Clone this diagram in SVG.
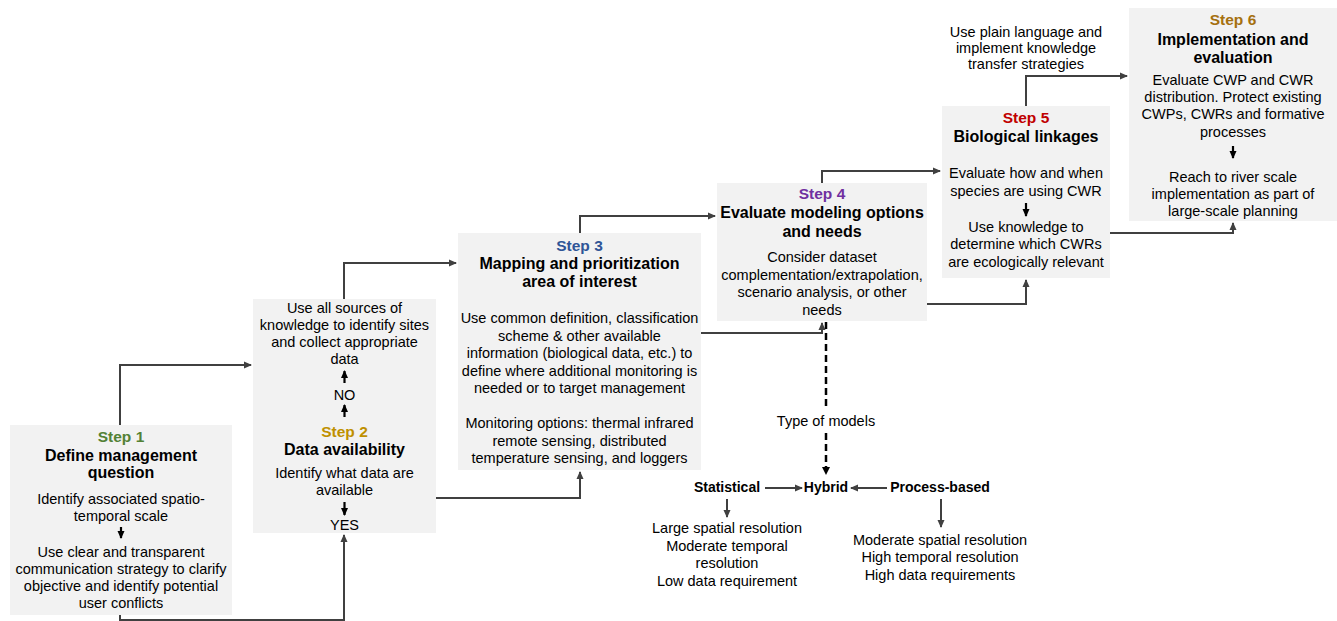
<svg xmlns="http://www.w3.org/2000/svg" width="1337" height="621" viewBox="0 0 1337 621">
<style>
.box{fill:#f2f2f2}
text{font-family:"Liberation Sans",Arial,sans-serif;text-anchor:middle;fill:#000}
.b{font-size:14.5px}
.t{font-size:16px;font-weight:bold}
.s{font-size:15.5px;font-weight:bold}
.m{font-size:14px;font-weight:bold}
.c{fill:none;stroke:#404040;stroke-width:2;marker-end:url(#ah)}
.k{fill:none;stroke:#000;stroke-width:2.2;marker-end:url(#ak)}
.d{fill:none;stroke:#000;stroke-width:2.5;stroke-dasharray:7 4}
</style>
<defs>
<marker id="ah" markerUnits="userSpaceOnUse" markerWidth="8" markerHeight="8" refX="7" refY="4" orient="auto"><path d="M0,0.5 L8,4 L0,7.5 Z" fill="#404040"/></marker>
<marker id="ak" markerUnits="userSpaceOnUse" markerWidth="8" markerHeight="8" refX="7" refY="4" orient="auto"><path d="M0,0.5 L8,4 L0,7.5 Z" fill="#000"/></marker>
</defs>
<rect width="1337" height="621" fill="#fff"/>

<g id="connectors">
<path class="c" d="M120,425 V365 H251"/>
<path class="c" d="M120,615 V620 H344 V535"/>
<path class="c" d="M344,299 V263 H456"/>
<path class="c" d="M436,498 H580 V472"/>
<path class="c" d="M580,233 V216 H715"/>
<path class="c" d="M701,333 H822 V323"/>
<path class="c" d="M822,183 V171 H940"/>
<path class="c" d="M927,304 H1026 V280"/>
<path class="c" d="M1026,106 V76 H1127"/>
<path class="c" d="M1110,233 H1233 V223"/>
<path class="d" d="M826,322 V410"/>
<path class="d" d="M826,433 V467"/>
<path fill="#000" d="M822,467 L830,467 L826,475 Z"/>
<path class="c" d="M765,488 H802"/>
<path class="c" d="M887,488 H851"/>
<path class="c" d="M727,499 V517"/>
<path class="c" d="M941,499 V527"/>
</g>

<g id="step1">
<rect class="box" x="10" y="425" width="222" height="190"/>
<text class="s" x="121" y="442" style="fill:#538135">Step 1</text>
<text class="t" x="121" y="461">Define management</text>
<text class="t" x="121" y="478">question</text>
<text class="b" x="121" y="504">Identify associated spatio-</text>
<text class="b" x="121" y="521">temporal scale</text>
<path class="k" d="M121,527 V538"/>
<text class="b" x="121" y="557">Use clear and transparent</text>
<text class="b" x="121" y="574">communication strategy to clarify</text>
<text class="b" x="121" y="591">objective and identify potential</text>
<text class="b" x="121" y="608">user conflicts</text>
</g>

<g id="step2">
<rect class="box" x="253" y="299" width="183" height="234"/>
<text class="b" x="344.5" y="313">Use all sources of</text>
<text class="b" x="344.5" y="330">knowledge to identify sites</text>
<text class="b" x="344.5" y="347">and collect appropriate</text>
<text class="b" x="344.5" y="364">data</text>
<path class="k" d="M344.5,383 V371"/>
<text class="b" x="344.5" y="400">NO</text>
<path class="k" d="M344.5,417 V405"/>
<text class="s" x="344.5" y="437" style="fill:#bf9000">Step 2</text>
<text class="t" x="344.5" y="455">Data availability</text>
<text class="b" x="344.5" y="478">Identify what data are</text>
<text class="b" x="344.5" y="495">available</text>
<path class="k" d="M344.5,502 V515"/>
<text class="b" x="344.5" y="530">YES</text>
</g>

<g id="step3">
<rect class="box" x="458" y="233" width="243" height="237"/>
<text class="s" x="579.5" y="251" style="fill:#2f5597">Step 3</text>
<text class="t" x="579.5" y="269">Mapping and prioritization</text>
<text class="t" x="579.5" y="287">area of interest</text>
<text class="b" x="579.5" y="323">Use common definition, classification</text>
<text class="b" x="579.5" y="341">scheme &amp; other available</text>
<text class="b" x="579.5" y="358">information (biological data, etc.) to</text>
<text class="b" x="579.5" y="376">define where additional monitoring is</text>
<text class="b" x="579.5" y="393">needed or to target management</text>
<text class="b" x="579.5" y="428">Monitoring options: thermal infrared</text>
<text class="b" x="579.5" y="446">remote sensing, distributed</text>
<text class="b" x="579.5" y="463">temperature sensing, and loggers</text>
</g>

<g id="step4">
<rect class="box" x="717" y="183" width="210" height="138"/>
<text class="s" x="822" y="199" style="fill:#7030a0">Step 4</text>
<text class="t" x="822" y="218">Evaluate modeling options</text>
<text class="t" x="822" y="237">and needs</text>
<text class="b" x="822" y="262">Consider dataset</text>
<text class="b" x="822" y="280">complementation/extrapolation,</text>
<text class="b" x="822" y="297">scenario analysis, or other</text>
<text class="b" x="822" y="315">needs</text>
</g>

<g id="step5">
<rect class="box" x="942" y="106" width="168" height="172"/>
<text class="s" x="1026" y="123" style="fill:#c00000">Step 5</text>
<text class="t" x="1026" y="142">Biological linkages</text>
<text class="b" x="1026" y="178">Evaluate how and when</text>
<text class="b" x="1026" y="196">species are using CWR</text>
<path class="k" d="M1026,203 V216"/>
<text class="b" x="1026" y="232">Use knowledge to</text>
<text class="b" x="1026" y="249">determine which CWRs</text>
<text class="b" x="1026" y="267">are ecologically relevant</text>
</g>

<g id="label-transfer">
<text class="b" x="1026" y="37">Use plain language and</text>
<text class="b" x="1026" y="53">implement knowledge</text>
<text class="b" x="1026" y="69">transfer strategies</text>
</g>

<g id="step6">
<rect class="box" x="1129" y="8" width="208" height="213"/>
<text class="s" x="1233" y="25" style="fill:#a5700f">Step 6</text>
<text class="t" x="1233" y="45">Implementation and</text>
<text class="t" x="1233" y="63">evaluation</text>
<text class="b" x="1233" y="85">Evaluate CWP and CWR</text>
<text class="b" x="1233" y="102">distribution. Protect existing</text>
<text class="b" x="1233" y="119">CWPs, CWRs and formative</text>
<text class="b" x="1233" y="137">processes</text>
<path class="k" d="M1233,146 V158"/>
<text class="b" x="1233" y="182">Reach to river scale</text>
<text class="b" x="1233" y="199">implementation as part of</text>
<text class="b" x="1233" y="216">large-scale planning</text>
</g>

<g id="models">
<text class="b" x="826" y="426">Type of models</text>
<text class="m" x="727" y="492">Statistical</text>
<text class="m" x="826" y="492">Hybrid</text>
<text class="m" x="940" y="492">Process-based</text>
<text class="b" x="727" y="533">Large spatial resolution</text>
<text class="b" x="727" y="551">Moderate temporal</text>
<text class="b" x="727" y="568">resolution</text>
<text class="b" x="727" y="586">Low data requirement</text>
<text class="b" x="940" y="545">Moderate spatial resolution</text>
<text class="b" x="940" y="562">High temporal resolution</text>
<text class="b" x="940" y="580">High data requirements</text>
</g>
</svg>
